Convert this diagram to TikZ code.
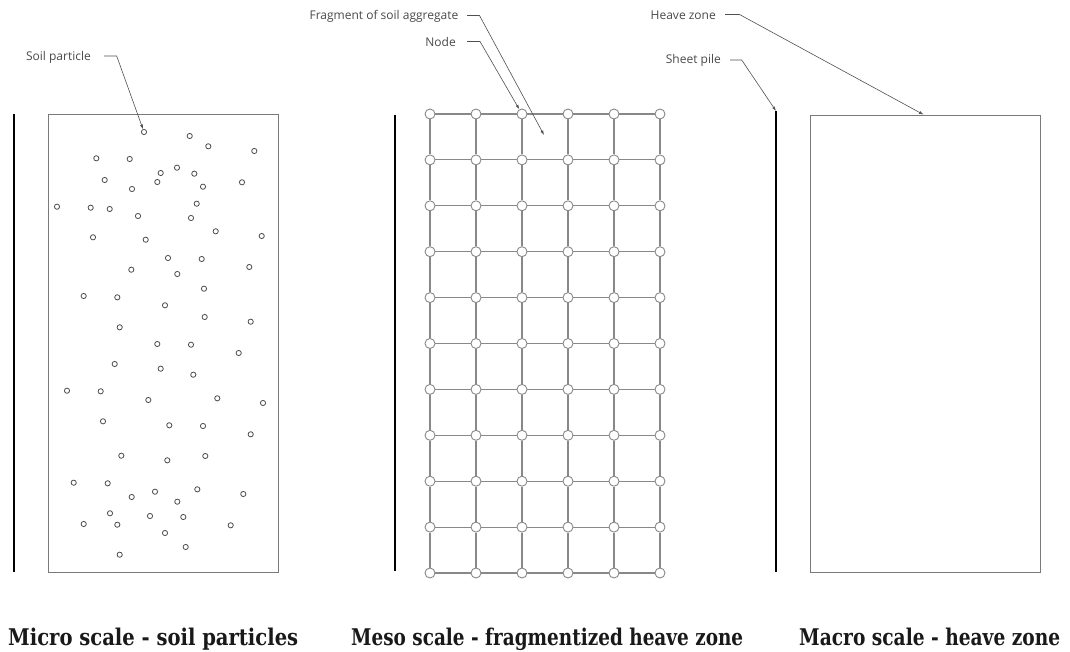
\documentclass[tikz,border=0pt]{standalone}
\usepackage{fontspec}
\usepackage{graphicx}
\setmainfont{Open Sans}
\newfontfamily\titlefont{DejaVu Serif}
\usetikzlibrary{arrows.meta}
\definecolor{labelgray}{HTML}{4A4A4A}
\definecolor{leadgray}{HTML}{505050}
\definecolor{boxgray}{HTML}{7A7A7A}
\definecolor{gridgray}{HTML}{888888}
\definecolor{partgray}{HTML}{4A4A4A}
\begin{document}
\begin{tikzpicture}[x=1pt,y=-1pt,
  lbl/.style={font=\fontsize{12}{14}\selectfont, text=labelgray, inner sep=0pt, anchor=east},
  leader/.style={draw=leadgray, line width=0.6pt, -{Latex[length=4.5pt,width=3pt]}},
  zonebox/.style={draw=boxgray, line width=0.9pt},
  pile/.style={draw=black, line width=1.6pt},
  particle/.style={circle, draw=partgray, line width=0.8pt, minimum size=5.2pt, inner sep=0pt},
  gnode/.style={circle, draw=gridgray, fill=white, line width=0.9pt, minimum size=10pt, inner sep=0pt},
  gline/.style={draw=gridgray, line width=1.1pt},
  ttl/.style={font=\titlefont\bfseries\fontsize{23}{26}\selectfont, text=black!90, inner sep=0pt, anchor=base west}
]
\useasboundingbox (0,0) rectangle (1070,652);
\fill[white] (0,0) rectangle (1070,652);

% ---------- Micro scale ----------
\coordinate (pileA-top) at (14,114);
\coordinate (pileA-bot) at (14,572);
\draw[pile] (pileA-top) -- (pileA-bot);
\draw[zonebox] (48.5,114.5) rectangle (278.5,572.5);
\foreach \x/\y [count=\i] in {144/132, 189.7/136, 208.3/146.3, 254.3/151, 96.3/158.3, 129.7/159,
  160.7/173, 177/167.7, 194.3/173.7, 104.7/180, 157.3/182, 132/189, 203/186.7, 242/182.3,
  57/206.7, 90.7/207.7, 109.7/209, 196.7/203.7, 138/216, 191/218, 93/237.3, 145.7/239.7,
  215.7/231.3, 261.7/236, 168/258, 201.7/259, 131.3/269.7, 177.3/274, 249.3/267, 204/288.7,
  83.7/296, 117.3/297.3, 165/305.3, 204.7/317, 250.7/321.7, 119.7/327.3,
  157.3/344, 191/344.7, 238.7/353, 114.7/364, 160.7/368.7, 193.3/374.7, 67/390.7, 100.7/391.3,
  148.3/400, 217.3/398.3, 263/403, 103/421.3, 169.3/425.3, 203/426, 250.7/434.3, 121.3/455.7,
  167.3/460.3, 205.3/456, 73.7/482.7, 107.7/483.3, 131.7/497, 155/491.7, 197.3/489.3,
  177.3/501.7, 243.3/494, 110/513.3, 150/516, 183.3/517, 83.7/524, 117.3/524.7, 165/533,
  230.7/525.3, 185.7/547, 119.7/554.7}
  \node[particle] (p\i) at (\x,\y) {};

\node[lbl] (soil) at (91,57) {Soil particle};
\coordinate (s0) at (104,56);
\coordinate (s1) at (116.7,56);
\draw[leader] (s0) -- (s1) -- (p1);

% ---------- Meso scale ----------
\coordinate (pileB-top) at (395,115);
\coordinate (pileB-bot) at (395,571);
\draw[pile] (pileB-top) -- (pileB-bot);
\foreach \i in {0,...,5}
  \foreach \j in {0,...,10}
    \node[gnode] (g-\i-\j) at ({430+46*\i},{114+45.9*\j}) {};
\foreach \i in {0,...,4}{
  \pgfmathtruncatemacro{\inext}{\i+1}
  \foreach \j in {0,...,10}{
    \draw[gline] (g-\i-\j) -- (g-\inext-\j);
  }
}
\foreach \i in {0,...,5}{
  \foreach \j in {0,...,9}{
    \pgfmathtruncatemacro{\jnext}{\j+1}
    \draw[gline] (g-\i-\j) -- (g-\i-\jnext);
  }
}

\node[lbl] (frag) at (458.5,16) {Fragment of soil aggregate};
\coordinate (f0) at (467,15.5);
\coordinate (f1) at (479.5,15.5);
\coordinate (f2) at (544,135);
\draw[leader] (f0) -- (f1) -- (f2);

\node[lbl] (nodelbl) at (456,42) {Node};
\coordinate (n0) at (467,41.5);
\coordinate (n1) at (480,41.5);
\draw[leader] (n0) -- (n1) -- (g-2-0);

% ---------- Macro scale ----------
\coordinate (pileC-top) at (776,111);
\coordinate (pileC-bot) at (776,572);
\draw[pile] (pileC-top) -- (pileC-bot);
\draw[zonebox] (810.5,115) rectangle (1040,572.5);
\coordinate (boxC-top) at (923.5,114.6);

\node[lbl] (heave) at (716,15) {Heave zone};
\coordinate (h0) at (725,14.5);
\coordinate (h1) at (739.5,14.5);
\draw[leader] (h0) -- (h1) -- (boxC-top);

\node[lbl] (sheet) at (721,60) {Sheet pile};
\coordinate (sp0) at (730,60);
\coordinate (sp1) at (741.7,60);
\draw[leader] (sp0) -- (sp1) -- (pileC-top);

% ---------- Titles ----------
\node[ttl] (t1) at (8,645) {\resizebox{290pt}{\height}{Micro scale - soil particles}};
\node[ttl] (t2) at (351,645) {\resizebox{392pt}{\height}{Meso scale - fragmentized heave zone}};
\node[ttl] (t3) at (799,645) {\resizebox{261pt}{\height}{Macro scale - heave zone}};
\end{tikzpicture}
\end{document}
